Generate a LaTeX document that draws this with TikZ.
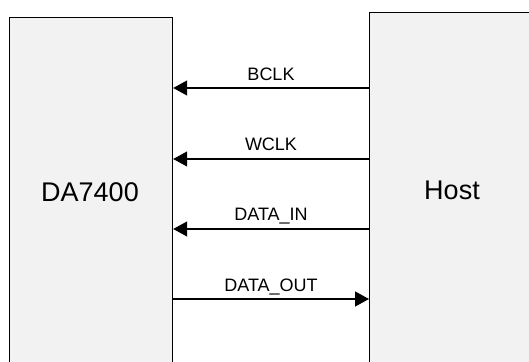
\documentclass[tikz,border=0pt]{standalone}
\usepackage{fontspec}
\setmainfont{Liberation Sans}
\usetikzlibrary{arrows.meta}
\begin{document}
\begin{tikzpicture}[x=1pt,y=1pt,
  blk/.style={draw=black,line width=1.2pt,fill=black!5,minimum width=163pt,minimum height=360pt,inner sep=0pt,anchor=north west},
  sig/.style={line width=1.3pt,-{Triangle[length=14pt,width=15pt]}},
  lbl/.style={font=\fontsize{18}{18}\selectfont,anchor=base,inner sep=0pt}]
\useasboundingbox (0,0) rectangle (529,361);
\begin{scope}
\clip (0,0) rectangle (529,361);
\node[blk] (da) at (9,344) {};
\node[blk,minimum width=180pt] (host) at (369,349) {};
\node[font=\fontsize{27}{27}\selectfont] at (90,169) {DA7400};
\node[font=\fontsize{27}{27}\selectfont] at (452,171) {Host};
\foreach \n/\y in {b/273,w/202,i/132,o/62}{
  \coordinate (da\n) at (da.east |- 0,\y);
  \coordinate (h\n) at (host.west |- 0,\y);
}
\draw[sig] (hb) -- (dab);
\draw[sig] (hw) -- (daw);
\draw[sig] (hi) -- (dai);
\draw[sig] (dao) -- (ho);
\node[lbl] (lb) at (271,280) {BCLK};
\node[lbl] (lw) at (271,210) {WCLK};
\node[lbl] (li) at (271,140) {DATA\_IN};
\node[lbl] (lo) at (271,69) {DATA\_OUT};
\end{scope}
\end{tikzpicture}
\end{document}
